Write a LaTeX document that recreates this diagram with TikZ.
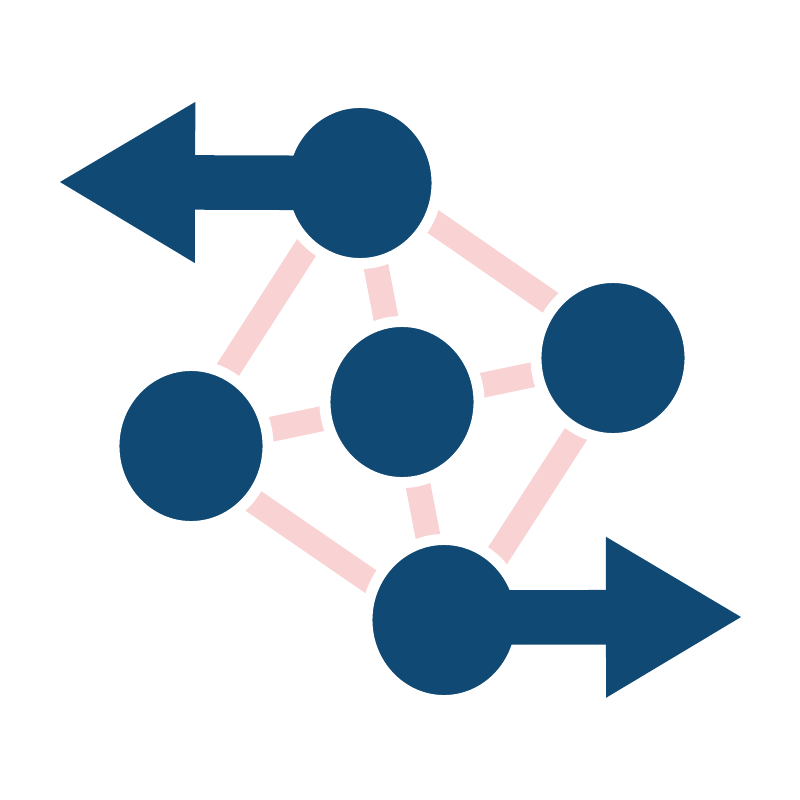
\documentclass[tikz,border=0pt]{standalone}
\usetikzlibrary{shapes.geometric, arrows.meta}
\definecolor{hubblue}{HTML}{104973}
\definecolor{linkpink}{HTML}{F9D3D4}

\begin{document}
\begin{tikzpicture}[x=0.01cm, y=-0.01cm,
            % Styles
            hub/.style={ellipse, fill=hubblue, draw=white, line width=0.11cm, inner sep=0pt, minimum width=1.54cm, minimum height=1.61cm},
            link/.style={draw=linkpink, line width=0.25cm},
            pointer/.style={draw=hubblue, line width=0.545cm, -{Triangle[length=1.35cm, width=1.61cm, line width=0pt]}}
        ]
        \useasboundingbox (0,0) rectangle (800,800);

        % Links
        \coordinate (toppos) at (360,183);
        \coordinate (rightpos) at (613,358);
        \coordinate (midpos) at (402,402);
        \coordinate (leftpos) at (191,446);
        \coordinate (botpos) at (444,620);

        \path [link] ([xshift=-0.12cm]toppos) -- ([xshift=-0.12cm]leftpos);
        \path [link] ([yshift=0.12cm]toppos) -- ([yshift=0.12cm]rightpos);
        \path [link] (toppos) -- (midpos);
        \path [link] (leftpos) -- (midpos);
        \path [link] (midpos) -- (rightpos);
        \path [link] (midpos) -- (botpos);
        \path [link] ([yshift=-0.12cm]leftpos) -- ([yshift=-0.12cm]botpos);
        \path [link] ([xshift=0.12cm]rightpos) -- ([xshift=0.12cm]botpos);

        % Nodes
        \node [hub] (top) at (toppos) {};
        \node [hub] (right) at (rightpos) {};
        \node [hub] (mid) at (midpos) {};
        \node [hub] (left) at (leftpos) {};
        \node [hub] (bot) at (botpos) {};

        % Pointers
        \coordinate (lefttip) at (60,182);
        \coordinate (righttip) at (741,617);
        \path [pointer] (top.center) -- (lefttip);
        \path [pointer] ([yshift=0.025cm]bot.center) -- (righttip);
    \end{tikzpicture}
\end{document}
